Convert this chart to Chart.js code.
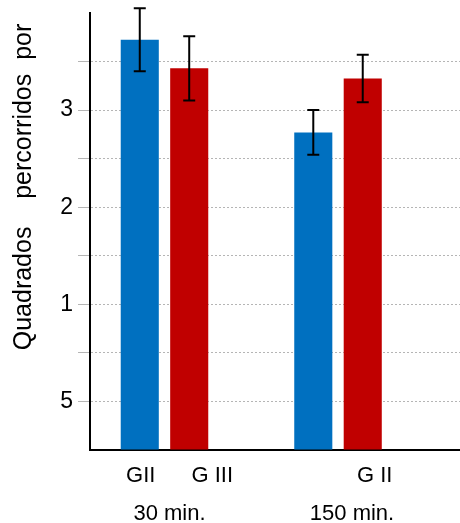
<!DOCTYPE html>
<html>
<head>
<meta charset="utf-8">
<script src="https://cdn.jsdelivr.net/npm/chart.js@4/dist/chart.umd.min.js"></script>
<style>
  html, body { margin: 0; padding: 0; background: #fff; }
  #wrap { width: 460px; height: 523px; }
</style>
</head>
<body>
<div id="wrap"><canvas id="grafico"></canvas></div>
<script>
// Dados
const grupos = ['30 min.', '150 min.'];
const rotulosBarras = [['GII', ''], ['G III', 'G II']];
const valoresAzul = [8.45, 6.54];
const valoresVermelho = [7.86, 7.65];
const errosAzul = [0.65, 0.46];
const errosVermelho = [0.66, 0.49];
const ticksY = [1, 3, 5, 7];
const rotulosTicksY = ['5', '1', '2', '3'];
const tituloY = 'Quadrados    percorridos  por';

const fonte = '"Liberation Sans", Arial, sans-serif';

// Barras de erro
const pluginErros = {
    id: 'erros',
    afterDatasetsDraw(chart) {
        const ctx = chart.ctx;
        const y = chart.scales.y;
        ctx.save();
        ctx.strokeStyle = '#000';
        ctx.lineWidth = 2;
        chart.data.datasets.forEach((ds, i) => {
            chart.getDatasetMeta(i).data.forEach((bar, j) => {
                const v = ds.data[j].y;
                const e = ds.erros[j];
                const yTop = y.getPixelForValue(v + e);
                const yBot = y.getPixelForValue(v - e);
                ctx.beginPath();
                ctx.moveTo(bar.x, yTop);
                ctx.lineTo(bar.x, yBot);
                ctx.moveTo(bar.x - 6, yTop);
                ctx.lineTo(bar.x + 6, yTop);
                ctx.moveTo(bar.x - 6, yBot);
                ctx.lineTo(bar.x + 6, yBot);
                ctx.stroke();
            });
        });
        ctx.restore();
    }
};

// Rótulos do eixo x e título do eixo y
const deslocBarras = [[1, 0], [23, 12]];
const deslocGrupos = [5, 14];
const pluginRotulos = {
    id: 'rotulos',
    afterDraw(chart) {
        const ctx = chart.ctx;
        ctx.save();
        ctx.fillStyle = '#000';
        ctx.textAlign = 'center';
        ctx.textBaseline = 'middle';
        ctx.font = '22px ' + fonte;
        chart.data.datasets.forEach((ds, i) => {
            chart.getDatasetMeta(i).data.forEach((bar, j) => {
                const txt = rotulosBarras[i][j];
                if (txt) ctx.fillText(txt, bar.x + deslocBarras[i][j], 476);
            });
        });
        const m0 = chart.getDatasetMeta(0).data;
        const m1 = chart.getDatasetMeta(1).data;
        grupos.forEach((g, j) => {
            const cx = (m0[j].x + m1[j].x) / 2;
            ctx.fillText(g, cx + deslocGrupos[j], 514);
        });
        ctx.translate(24, 187);
        ctx.rotate(-Math.PI / 2);
        ctx.font = '25px ' + fonte;
        ctx.fillText(tituloY, 0, 0);
        ctx.restore();
    }
};

new Chart(document.getElementById('grafico'), {
    type: 'bar',
    data: {
        datasets: [
            {
                data: valoresAzul.map((v, i) => ({ x: i + 1, y: v })),
                erros: errosAzul,
                backgroundColor: '#0070C0'
            },
            {
                data: valoresVermelho.map((v, i) => ({ x: i + 1, y: v })),
                erros: errosVermelho,
                backgroundColor: '#C00000'
            }
        ]
    },
    options: {
        responsive: true,
        maintainAspectRatio: false,
        animation: false,
        categoryPercentage: 0.57,
        barPercentage: 0.77,
        layout: { padding: { top: 13, left: 0, right: 0, bottom: 0 } },
        plugins: {
            legend: { display: false },
            tooltip: { enabled: false }
        },
        scales: {
            x: {
                type: 'linear',
                offset: false,
                min: 0.5707,
                max: 2.703,
                afterBuildTicks: function(scale) {
                    scale.ticks = grupos.map((g, i) => ({ value: i + 1 }));
                },
                ticks: { display: false },
                grid: { display: false, offset: false },
                border: { display: true, color: '#000', width: 2 },
                afterFit: function(scale) {
                    scale.height = 73;
                    scale.paddingLeft = 0;
                    scale.paddingRight = 0;
                }
            },
            y: {
                min: 0,
                max: 9,
                afterBuildTicks: function(scale) {
                    scale.ticks = [0, 1, 2, 3, 4, 5, 6, 7, 8, 9].map(v => ({ value: v }));
                },
                ticks: {
                    padding: 5,
                    color: '#000',
                    font: { family: fonte, size: 23 },
                    callback: function(value) {
                        const k = ticksY.indexOf(value);
                        return k >= 0 ? rotulosTicksY[k] : '';
                    }
                },
                grid: {
                    tickLength: 12,
                    lineWidth: 1,
                    color: function(c) {
                        const v = c.tick ? c.tick.value : 0;
                        return (v === 0 || v === 9) ? 'rgba(0,0,0,0)' : '#b5b5b5';
                    }
                },
                border: { display: true, color: '#000', width: 2, dash: [2, 2] },
                afterFit: function(scale) {
                    scale.width = 90;
                    scale.paddingTop = 0;
                    scale.paddingBottom = 0;
                }
            }
        }
    },
    plugins: [pluginErros, pluginRotulos]
});
</script>
</body>
</html>
